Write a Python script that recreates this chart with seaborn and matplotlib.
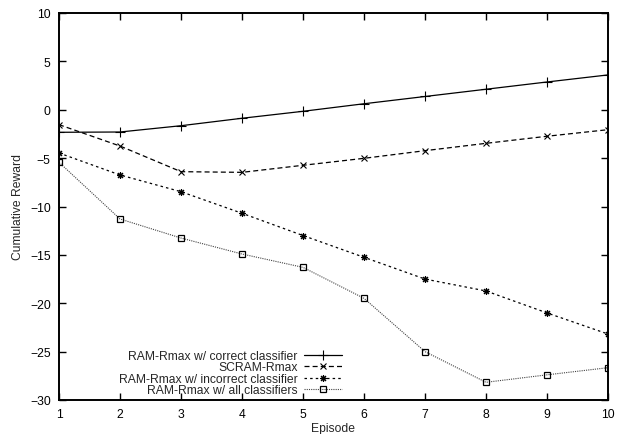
import pandas as pd
import seaborn as sns
import matplotlib
matplotlib.use("Agg")
import matplotlib.pyplot as plt

# values
episodes = [1, 2, 3, 4, 5, 6, 7, 8, 9, 10]
correct = [-2.33, -2.3, -1.65, -0.88, -0.16, 0.62, 1.37, 2.12, 2.87, 3.6]
scram = [-1.54, -3.75, -6.4, -6.47, -5.74, -5.02, -4.23, -3.47, -2.74, -2.06]
incorrect = [-4.47, -6.74, -8.47, -10.7, -13.0, -15.25, -17.5, -18.73, -21.0, -23.18]
all_clf = [-5.43, -11.29, -13.26, -14.91, -16.29, -19.49, -25.0, -28.17, -27.4, -26.66]

labels = ["RAM-Rmax w/ correct classifier", "SCRAM-Rmax",
          "RAM-Rmax w/ incorrect classifier", "RAM-Rmax w/ all classifiers"]
series = [correct, scram, incorrect, all_clf]

sns.set_style("ticks")
plt.rcParams["font.family"] = ["Liberation Sans", "DejaVu Sans"]
plt.rcParams["font.size"] = 8.7

fig = plt.figure(figsize=(6.19, 4.35), dpi=100)
ax = fig.add_axes([59 / 619, 1 - 401 / 435, (608 - 59) / 619, (401 - 14) / 435])

# seaborn paints marker edges white by default, so give mec explicitly
styles = [
    dict(color="black", marker="+", ls="-", lw=0.9, ms=6.5, mew=0.8, mec="black"),
    dict(color="black", marker="x", ls=(0, (4, 2.5)), lw=0.9, ms=5, mew=0.8, mec="black"),
    dict(color="black", marker=(8, 2, 0), ls=(0, (2, 2.5)), lw=0.9, ms=5, mew=0.8,
         mec="black"),
    dict(color="#444444", marker="s", ls=(0, (1, 1)), lw=0.8, ms=5, mew=0.9,
         mfc="none", mec="black"),
]

for vals, lab, st in zip(series, labels, styles):
    df = pd.DataFrame({"Episode": episodes, "Reward": vals})
    sns.lineplot(data=df, x="Episode", y="Reward", ax=ax, label=lab, **st)

ax.set_xlim(1, 10)
ax.set_ylim(-30, 10)
ax.set_xticks(episodes)
ax.set_yticks(range(-30, 11, 5))
ax.set_xlabel("Episode", labelpad=1)
ax.set_ylabel("Cumulative Reward", labelpad=4)

for sp in ax.spines.values():
    sp.set_linewidth(1.4)
    sp.set_color("black")
ax.tick_params(direction="in", length=5, width=1, top=True, right=True,
               colors="black", labelsize=8.7, pad=6)

leg = ax.legend(loc="lower right", bbox_to_anchor=(0.515, 0.01), frameon=False,
                markerfirst=False, handlelength=3.15, handletextpad=0.5,
                labelspacing=-0.05, borderpad=0, borderaxespad=0,
                fontsize=8.7)

fig.savefig("out.png", dpi=100)
